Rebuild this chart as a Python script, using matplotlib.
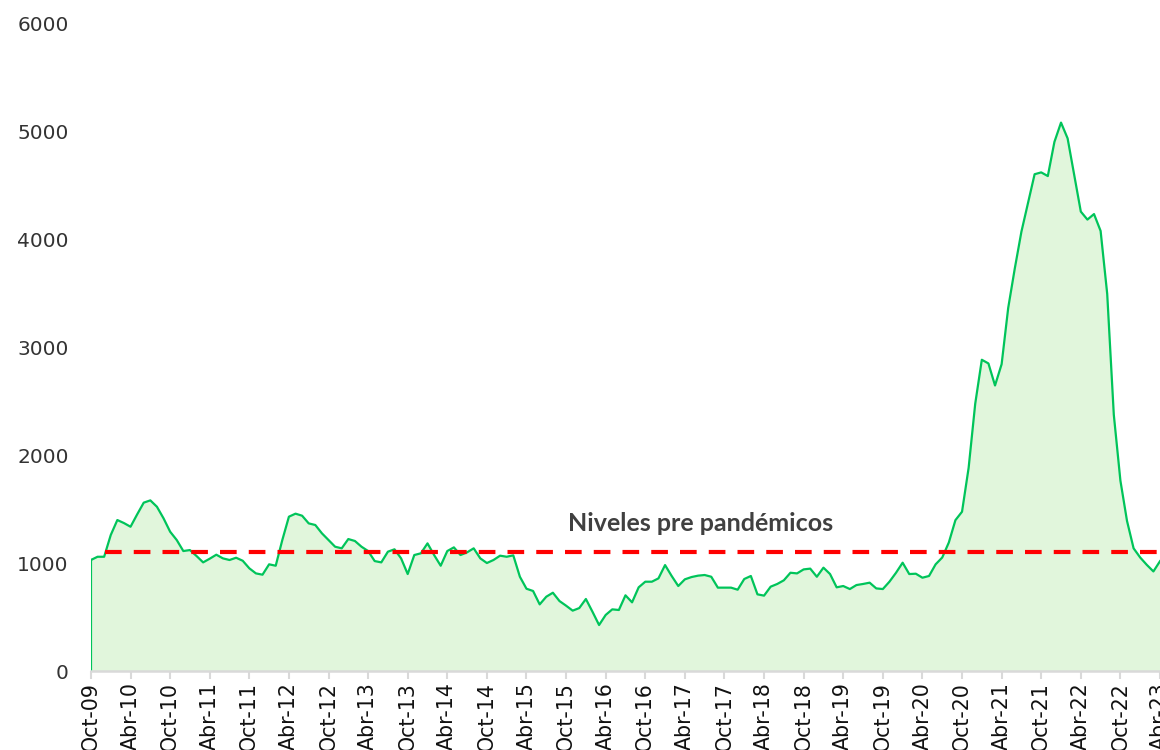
import matplotlib.pyplot as plt
import numpy as np

# monthly values, Oct-09 .. Abr-23
valores = [1028, 1058, 1058, 1259, 1398, 1370, 1336, 1450, 1559, 1580,
           1521, 1414, 1290, 1213, 1111, 1120, 1065, 1006, 1040, 1077,
           1043, 1028, 1049, 1021, 951, 904, 892, 988, 975, 1213,
           1429, 1457, 1438, 1367, 1352, 1275, 1213, 1151, 1136, 1222,
           1204, 1151, 1111, 1018, 1006, 1105, 1127, 1043, 898, 1074,
           1090, 1182, 1074, 975, 1111, 1145, 1074, 1099, 1136, 1043,
           1000, 1028, 1068, 1058, 1071, 873, 762, 741, 617, 688,
           725, 648, 605, 559, 583, 667, 549, 426, 519, 571,
           565, 701, 636, 775, 827, 827, 858, 981, 880, 787,
           849, 870, 883, 889, 873, 772, 772, 772, 753, 852,
           880, 710, 698, 781, 806, 840, 910, 904, 941, 948,
           873, 957, 898, 775, 787, 759, 796, 806, 818, 765,
           759, 827, 910, 1003, 898, 901, 864, 880, 988, 1051,
           1190, 1397, 1475, 1881, 2475, 2882, 2848, 2644, 2841, 3363,
           3729, 4068, 4332, 4600, 4617, 4583, 4899, 5078, 4932, 4593,
           4254, 4180, 4231, 4075, 3492, 2373, 1763, 1390, 1136, 1051,
           983, 922, 1017]

etiquetas = ["Oct-09", "Abr-10", "Oct-10", "Abr-11", "Oct-11", "Abr-12",
             "Oct-12", "Abr-13", "Oct-13", "Abr-14", "Oct-14", "Abr-15",
             "Oct-15", "Abr-16", "Oct-16", "Abr-17", "Oct-17", "Abr-18",
             "Oct-18", "Abr-19", "Oct-19", "Abr-20", "Oct-20", "Abr-21",
             "Oct-21", "Abr-22", "Oct-22", "Abr-23"]

nivel_pre = 1100
inicio_nivel = 2.2
texto_nivel = "Niveles pre pandémicos"

x = np.arange(len(valores))

fig = plt.figure(figsize=(11.6, 7.5), dpi=100)
ax = fig.add_axes([0.0784, 0.1053, 0.9216, 0.864])

ax.fill_between(x, 0, valores, color="#E1F6DC", linewidth=0)
ax.plot(x, valores, color="#00C45A", linewidth=1.6)
ax.plot([0, 0], [0, valores[0]], color="#00C45A", linewidth=1.6)

ax.plot([inicio_nivel, x[-1]], [nivel_pre, nivel_pre], color="#FF0000",
        linewidth=3, dashes=(4, 2.9))

ax.text(x[-1] * 0.57, nivel_pre + 270, texto_nivel, ha="center",
        va="center", fontsize=18, fontweight="bold", color="#404040",
        family="Lato")

ax.set_xlim(0, x[-1])
ax.set_ylim(0, 6000)
ax.set_yticks(np.arange(0, 6001, 1000))
ax.set_xticks(np.arange(0, len(valores), 6))
ax.set_xticklabels(etiquetas, rotation=90, fontsize=14.8,
                   family=["Liberation Sans Narrow", "DejaVu Sans"])

ax.tick_params(axis="y", length=0, pad=16, labelsize=14.5, labelcolor="#333333")
ax.tick_params(axis="x", length=6, width=1.5, color="#D9D9D9", pad=2,
               labelcolor="#111111")

for s in ["top", "right", "left"]:
    ax.spines[s].set_visible(False)
ax.spines["bottom"].set_color("#D9D9D9")
ax.spines["bottom"].set_linewidth(1.8)

fig.savefig("out.png", dpi=100)
